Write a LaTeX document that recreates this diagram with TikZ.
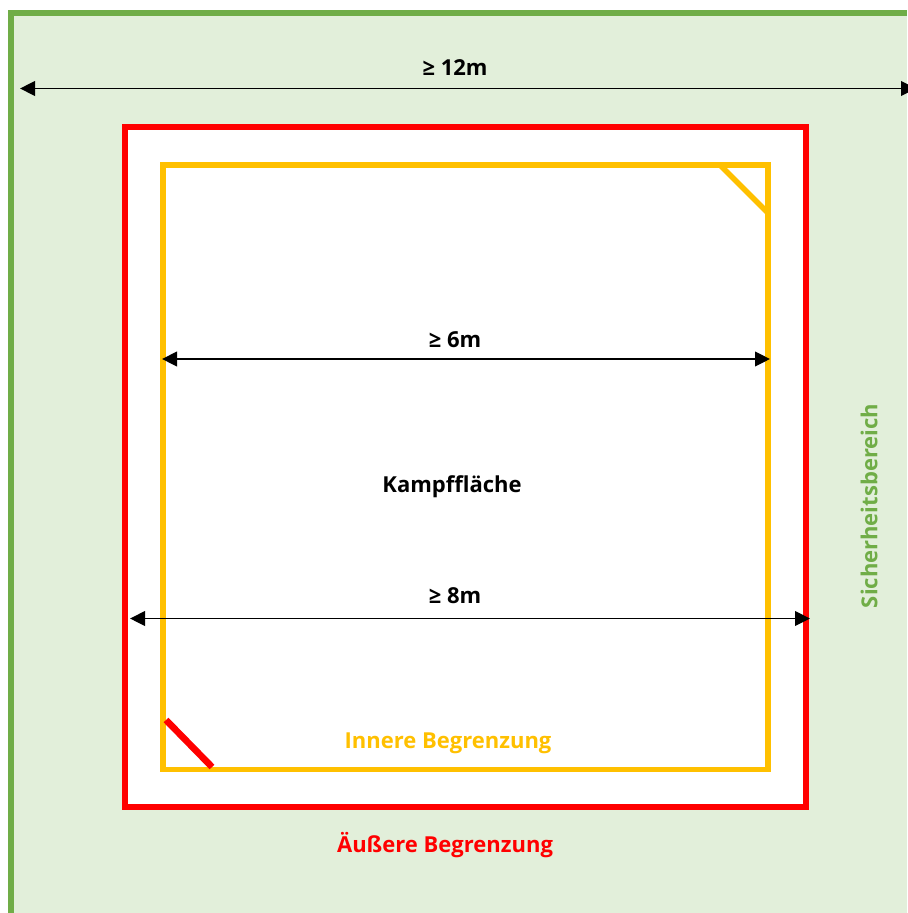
\documentclass[tikz,border=0pt]{standalone}
\usepackage{fontspec}
\setmainfont{Open Sans}
\usetikzlibrary{arrows.meta}
\definecolor{zonegreen}{RGB}{112,173,71}
\definecolor{zonefill}{RGB}{226,239,218}
\definecolor{outerred}{RGB}{255,0,0}
\definecolor{inneryellow}{RGB}{255,192,0}
\tikzset{every picture/.style={line width=0.75pt}}
\tikzset{
  lbl/.style={inner sep=0.75pt, font=\bfseries\fontsize{16.5}{20}\selectfont},
  dimarrow/.style={line width=1.1pt, {Triangle[length=11.25pt,width=11pt]}-{Triangle[length=11.25pt,width=11pt]}}
}

\begin{document}
\begin{tikzpicture}[x=0.75pt,y=0.75pt,yscale=-1,xscale=1]
\useasboundingbox (0,0) rectangle (907,913);

%Shape: Safety zone
\fill [zonefill] (8,10) rectangle (907,913);
\draw [zonegreen, line width=4.5pt] (11,913) -- (11,13) -- (907,13);
%Shape: Outer boundary
\draw [outerred, fill=white, line width=4.5pt] (125,127) rectangle (805.5,807);
%Shape: Inner boundary
\draw [inneryellow, line width=4.1pt] (163,165) rectangle (768,769.5);
%Straight Lines: corner marks
\draw [inneryellow, line width=4.1pt] (720,165) -- (768,213);
\draw [outerred, line width=5pt] (166,720) -- (212,767);

%Dimension ends
\coordinate (twelveL) at (20,88.5);
\coordinate (twelveR) at (916,88.5);
\coordinate (sixL) at (162,359);
\coordinate (sixR) at (770,359);
\coordinate (eightL) at (130,618.5);
\coordinate (eightR) at (810,618.5);

%Straight Lines: dimensions
\draw [dimarrow] (twelveL) -- (twelveR);
\draw [dimarrow] (sixL) -- (sixR);
\draw [dimarrow] (eightL) -- (eightR);

% Text Node
\node (twelve) at (455,68) [lbl] {≥ 12m};
% Text Node
\node (six) at (455,340) [lbl] {≥ 6m};
% Text Node
\node (field) at (452,487) [lbl] {Kampffläche};
% Text Node
\node (eight) at (455,596) [lbl] {≥ 8m};
% Text Node
\node (inner) at (448,743) [lbl, text=inneryellow] {Innere Begrenzung};
% Text Node
\node (outer) at (445,845) [lbl, text=outerred] {Äußere Begrenzung};
% Text Node
\node (zone) at (869,506) [lbl, text=zonegreen, rotate=90] {Sicherheitsbereich};

\end{tikzpicture}
\end{document}
